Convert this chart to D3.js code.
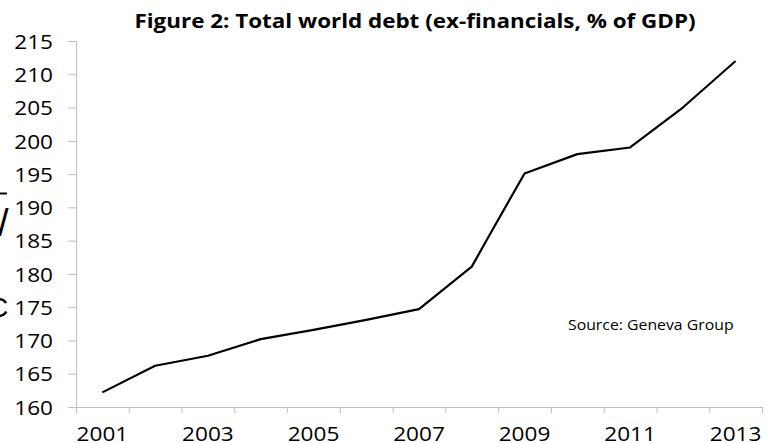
<!DOCTYPE html>
<html>
<head>
<meta charset="utf-8">
<script src="https://cdn.jsdelivr.net/npm/d3@7"></script>
<style>
  body { margin: 0; background: #fff; }
  svg { display: block; font-family: "Open Sans", sans-serif; }
</style>
</head>
<body>
<script>
// values
var years = [2001, 2002, 2003, 2004, 2005, 2006, 2007, 2008, 2008.42, 2009, 2010, 2011, 2012, 2013];
var debt  = [162.2, 166.2, 167.7, 170.2, 171.6, 173.1, 174.7, 181.1, 187.0, 195.1, 198.0, 199.0, 205.0, 212.0];
var yTicks = [160, 165, 170, 175, 180, 185, 190, 195, 200, 205, 210, 215];
var xLabels = [2001, 2003, 2005, 2007, 2009, 2011, 2013];
var xBounds = d3.range(2000.5, 2014, 1);

var width = 769,
    height = 443,
    stretch = 1.13,   // source picture is a bit wider than the font
    axisColor = "#bfbfbf";

var svg = d3.select("body").append("svg")
    .attr("width", width)
    .attr("height", height);

var x = d3.scaleLinear().domain([2000.5, 2013.5]).range([76, 762]);
var y = d3.scaleLinear().domain([160, 215]).range([407, 41]);

// y axis
var gy = svg.append("g")
    .attr("transform", "translate(76,0)")
    .call(d3.axisLeft(y).tickValues(yTicks).tickSize(8).tickSizeOuter(0).tickFormat(d3.format("d")));
gy.selectAll("line, path").attr("stroke", axisColor);
gy.selectAll("text")
    .attr("x", 0)
    .attr("dy", "0.36em")
    .attr("transform", "translate(-23,0) scale(" + stretch + ",1)")
    .attr("fill", "#000")
    .style("font-size", "20px")
    .style("font-family", "'Open Sans', sans-serif");

// x axis: ticks between the years, labels every other year
var gx = svg.append("g")
    .attr("transform", "translate(0," + y(160) + ")")
    .call(d3.axisBottom(x).tickValues(xBounds).tickSize(6).tickSizeOuter(0).tickFormat(""));
gx.selectAll("line, path").attr("stroke", axisColor);

svg.append("g").selectAll("text")
    .data(xLabels)
  .enter().append("text")
    .attr("transform", function(d) { return "translate(" + x(d) + ",441) scale(" + stretch + ",1)"; })
    .attr("text-anchor", "middle")
    .style("font-size", "20px")
    .text(function(d) { return d; });

// the series
var line = d3.line()
    .x(function(d, i) { return x(years[i]); })
    .y(function(d) { return y(d); });

svg.append("path")
    .datum(debt)
    .attr("fill", "none")
    .attr("stroke", "#000")
    .attr("stroke-width", 2.2)
    .attr("stroke-linejoin", "round")
    .attr("d", line);

// title
svg.append("text")
    .attr("transform", "translate(415,28) scale(1.18,1)")
    .attr("text-anchor", "middle")
    .style("font-size", "19px")
    .style("font-weight", "bold")
    .text("Figure 2: Total world debt (ex-financials, % of GDP)");

// source note
svg.append("text")
    .attr("transform", "translate(568,330) scale(" + stretch + ",1)")
    .style("font-size", "14px")
    .text("Source: Geneva Group");

// bits of a neighbouring picture cut off at the left edge
svg.append("line")
    .attr("x1", 0).attr("x2", 7)
    .attr("y1", 193.5).attr("y2", 193.5)
    .attr("stroke", "#000").attr("stroke-width", 2);
svg.append("text")
    .attr("x", -2).attr("y", 236)
    .style("font-family", "'Liberation Sans', sans-serif")
    .style("font-size", "38px")
    .text("/");
svg.append("text")
    .attr("x", -12).attr("y", 317)
    .style("font-family", "'Liberation Sans', sans-serif")
    .style("font-size", "28px")
    .text("C");
</script>
</body>
</html>
